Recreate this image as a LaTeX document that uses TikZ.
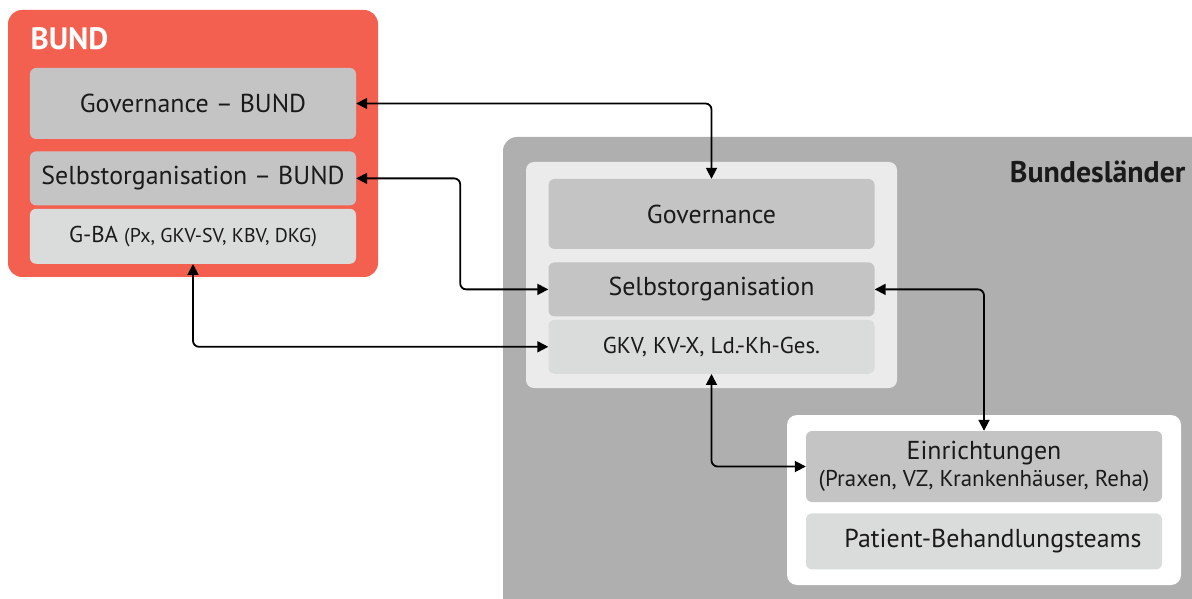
\documentclass[tikz,border=0pt]{standalone}
\usepackage{fontspec}
\setmainfont{PT Sans}
\usepackage{tikz}
\usetikzlibrary{arrows.meta, positioning}
\definecolor{bundred}{RGB}{244,96,80}
\definecolor{landgray}{RGB}{175,175,175}
\definecolor{framegray}{RGB}{235,235,235}
\definecolor{midgray}{RGB}{196,196,196}
\definecolor{palegray}{RGB}{218,219,219}
\definecolor{inkgray}{RGB}{26,26,26}

\begin{document}
\begin{tikzpicture}[x=1bp, y=-1bp,
    every node/.style={text=inkgray, font=\fontsize{26}{30}\selectfont},
    box/.style={fill=midgray, rounded corners=6bp, minimum width=326bp, inner sep=0pt, align=center},
    lightbox/.style={box, fill=palegray},
    link/.style={{Triangle[length=11bp,width=11bp]}-{Triangle[length=11bp,width=11bp]}, line width=1.8bp, rounded corners=6bp, black}]
  \useasboundingbox (0,0) rectangle (1192,599);
  \clip (0,0) rectangle (1192,599);
  % Bund
  \fill[bundred, rounded corners=14bp] (8,10) rectangle (378,277);
  \node[anchor=base west, text=white, font=\fontsize{31}{34}\selectfont\bfseries] (bund) at (27,50) {BUND};
  \node[box, minimum height=71bp] (govbund) at (193,103.5) {Governance – BUND};
  \node[box, minimum height=54bp, below=12bp of govbund] (selbund) {Selbstorganisation – BUND};
  \node[lightbox, minimum height=55bp, below=3bp of selbund, font=\fontsize{23}{26}\selectfont] (gba) {G-BA {\fontsize{20}{24}\selectfont (Px, GKV-SV, KBV, DKG)}};
  % Bundeslaender
  \fill[landgray, rounded corners=14bp] (503,137) rectangle (1230,640);
  \node[anchor=base east, font=\fontsize{30}{34}\selectfont\bfseries] (land) at (1189,183) {Bundesländer};
  \fill[framegray, rounded corners=8bp] (526,162) rectangle (897,388);
  \node[box, minimum height=70bp] (gov) at (711.5,214) {Governance};
  \node[box, minimum height=54bp, below=13bp of gov] (selb) {Selbstorganisation};
  \node[lightbox, minimum height=54bp, below=3bp of selb, font=\fontsize{23}{26}\selectfont] (gkv) {GKV, KV-X, Ld.-Kh-Ges.};
  \fill[white, rounded corners=10bp] (787,415) rectangle (1181,585);
  \node[box, minimum width=356bp, minimum height=71bp] (einr) at (984,466.5) {Einrichtungen\\[-3bp]{\fontsize{23}{26}\selectfont (Praxen, VZ, Krankenhäuser, Reha)}};
  \node[lightbox, minimum width=356bp, minimum height=56bp, below=11bp of einr] (team) {\hspace*{18bp}Patient-Behandlungsteams};
  % Verbindungen
  \draw[link] (govbund.east) -| (gov.north);
  \draw[link] (selbund.east) -- ++(104,0) |- (selb.west);
  \draw[link] (gba.south) |- (gkv.west);
  \draw[link] (selb.east) -| (einr.north);
  \draw[link] (gkv.south) |- (einr.west);
\end{tikzpicture}
\end{document}
